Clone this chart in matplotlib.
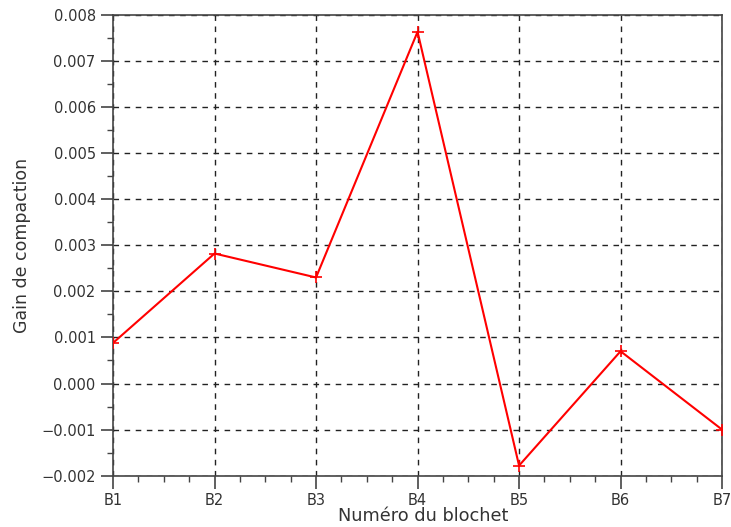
import matplotlib
matplotlib.use('Agg')
import matplotlib.pyplot as plt
from matplotlib.ticker import MultipleLocator, AutoMinorLocator

blocks = ['B1', 'B2', 'B3', 'B4', 'B5', 'B6', 'B7']
gain = [0.00088, 0.00282, 0.00230, 0.00763, -0.00178, 0.00070, -0.00100]

fig = plt.figure(figsize=(7.31, 5.27), dpi=100)
ax = fig.add_axes([0.1546, 0.0973, 0.8332, 0.8748])

x = list(range(len(blocks)))
ax.plot(x, gain, color='red', lw=1.5, marker='+', ms=9, mew=1.2, zorder=3)

ax.set_xlim(0, len(blocks) - 1)
ax.set_ylim(-0.002, 0.008)
ax.set_xticks(x)
ax.set_xticklabels(blocks)
ax.xaxis.set_minor_locator(AutoMinorLocator(4))
ax.yaxis.set_major_locator(MultipleLocator(0.001))
ax.yaxis.set_minor_locator(AutoMinorLocator(2))
ax.yaxis.set_major_formatter(plt.FuncFormatter(lambda v, p: ('%.3f' % v).replace('-', '\u2212')))

ax.grid(True, which='major', color='#222222', ls=(0, (4, 4)), lw=1)
for s in ax.spines.values():
    s.set_color('#444444')
    s.set_linewidth(1.2)
ax.tick_params(which='major', length=9, width=1.2, color='#444444', labelsize=10.5, labelcolor='#333333')
ax.tick_params(which='minor', length=4.5, width=1, color='#444444')

ax.set_xlabel('Numéro du blochet', fontsize=12.8, color='#333333')
ax.set_ylabel('Gain de compaction', fontsize=12.5, color='#333333')
ax.xaxis.set_label_coords(0.51, -0.068)
ax.yaxis.set_label_coords(-0.135, 0.5)

fig.savefig('out.png', dpi=100)
